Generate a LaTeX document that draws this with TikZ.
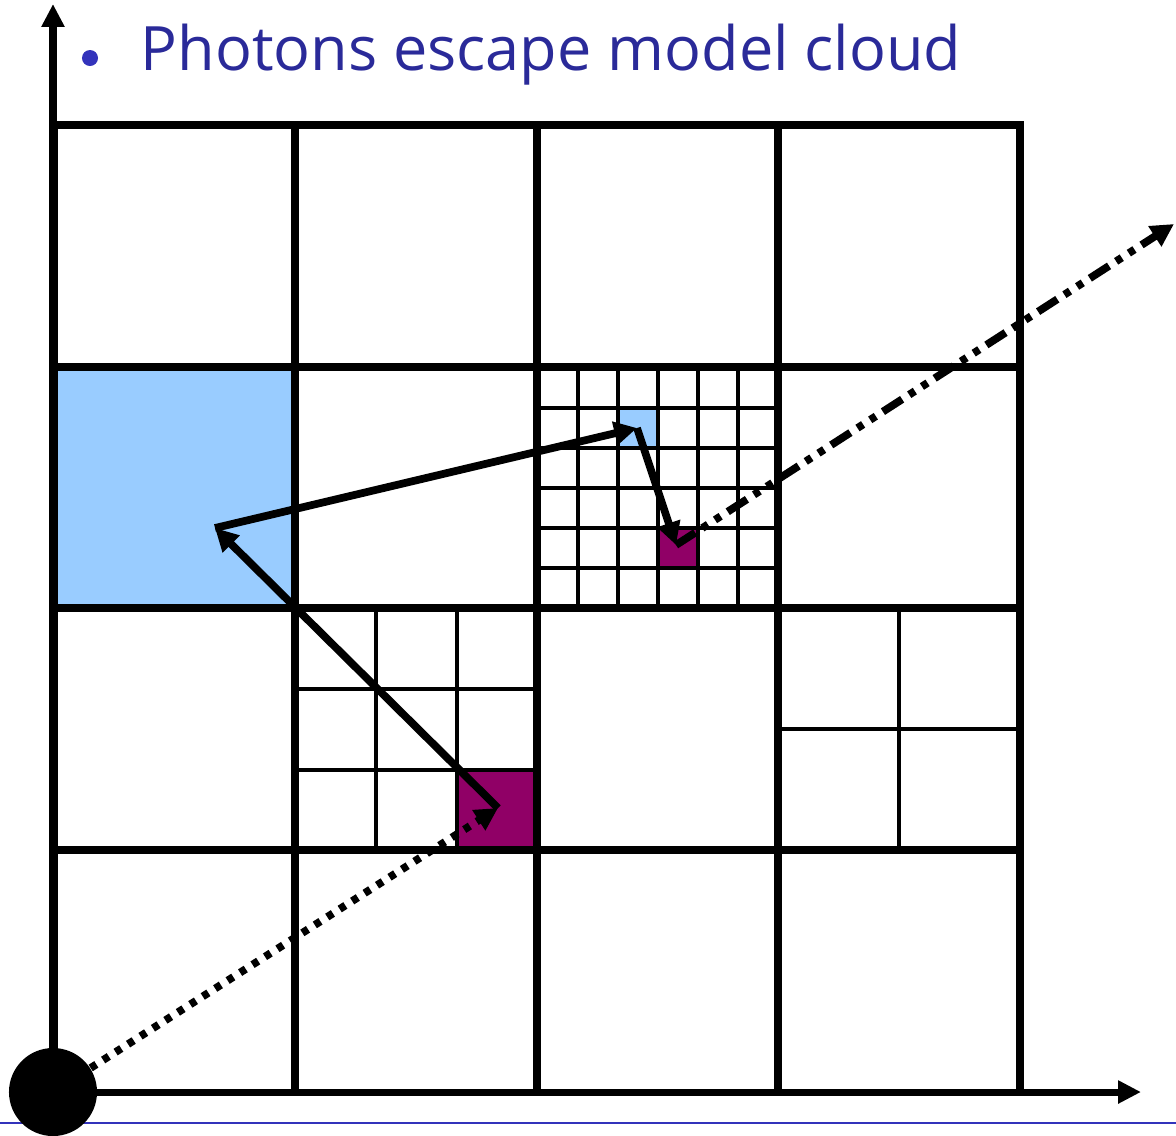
\documentclass[tikz,border=0pt]{standalone}
\usepackage{fontspec}
\newfontfamily\titlefont{Open Sans}
\usetikzlibrary{arrows.meta}
\definecolor{CellBlue}{HTML}{99CCFF}
\definecolor{CellPurple}{HTML}{900066}
\definecolor{TitleBlue}{HTML}{2A2A99}
\definecolor{SlideBlue}{HTML}{3333BB}

\begin{document}
\begin{tikzpicture}[x=0.01cm,y=-0.01cm,
    thickgrid/.style={line width=2.1pt,line cap=rect},
    finegrid/.style={line width=1.2pt},
    axis/.style={line width=2.0pt,-{Triangle[length=6.5pt,width=6.2pt]}},
    flight/.style={line width=2.2pt,-{Triangle[length=6.5pt,width=6.5pt]}},
    diffuse/.style={flight,dash pattern=on 1.9pt off 2.3pt},
    escape/.style={flight,dash pattern=on 6.5pt off 2.4pt on 1.9pt off 2.4pt on 1.9pt off 2.4pt}]
  \useasboundingbox (0,0) rectangle (1176,1135);
  % coloured cells
  \fill[CellBlue] (54,367) rectangle (295,608);
  \fill[CellBlue] (617,408) rectangle (657,448);
  \fill[CellPurple] (657,528) rectangle (698,568);
  \fill[CellPurple] (457,770) rectangle (537,850);
  % refined cells
  \foreach \x in {578,618,658,698,738}
    \draw[finegrid] (\x,367) -- (\x,608);
  \foreach \y in {408,448,488,528,568}
    \draw[finegrid] (537,\y) -- (778,\y);
  \foreach \x in {376,457}
    \draw[finegrid] (\x,608) -- (\x,850);
  \foreach \y in {689,770}
    \draw[finegrid] (295,\y) -- (537,\y);
  \draw[finegrid] (899,608) -- (899,850);
  \draw[finegrid] (778,729) -- (1020,729);
  % coarse grid
  \foreach \x in {54,295,537,778,1020}
    \draw[thickgrid] (\x,125) -- (\x,1092);
  \foreach \y in {125,367,608,850}
    \draw[thickgrid] (54,\y) -- (1020,\y);
  % axes and source
  \coordinate (origin) at (53,1092);
  \coordinate (ytop) at (53,4);
  \coordinate (xend) at (1141,1092);
  \draw[axis] (origin) -- (ytop);
  \draw[axis] (origin) -- (xend);
  \coordinate (ruleL) at (0,1123);
  \coordinate (ruleR) at (1176,1123);
  \draw[SlideBlue,line width=0.6pt] (ruleL) -- (ruleR);
  \node[circle,fill=black,minimum size=0.88cm,inner sep=0pt] (src) at (origin) {};
  % photon path
  \coordinate (hitA) at (498,808);
  \coordinate (hitB) at (215,528);
  \coordinate (hitC) at (637,428);
  \coordinate (hitD) at (676,545);
  \coordinate (away) at (1174,224);
  \draw[diffuse] (src) -- (hitA);
  \draw[flight] (hitA) -- (hitB);
  \draw[flight] (hitB) -- (hitC);
  \draw[flight] (hitC) -- (hitD);
  \draw[escape] (hitD) -- (away);
  % title
  \node[circle,fill=SlideBlue,minimum size=0.16cm,inner sep=0pt] (bullet) at (90,58) {};
  \node[anchor=base west,inner sep=0pt,text=TitleBlue,
        font=\titlefont\fontsize{17.4}{20}\selectfont] (title) at (140,70)
    {Photons escape model cloud};
\end{tikzpicture}
\end{document}
